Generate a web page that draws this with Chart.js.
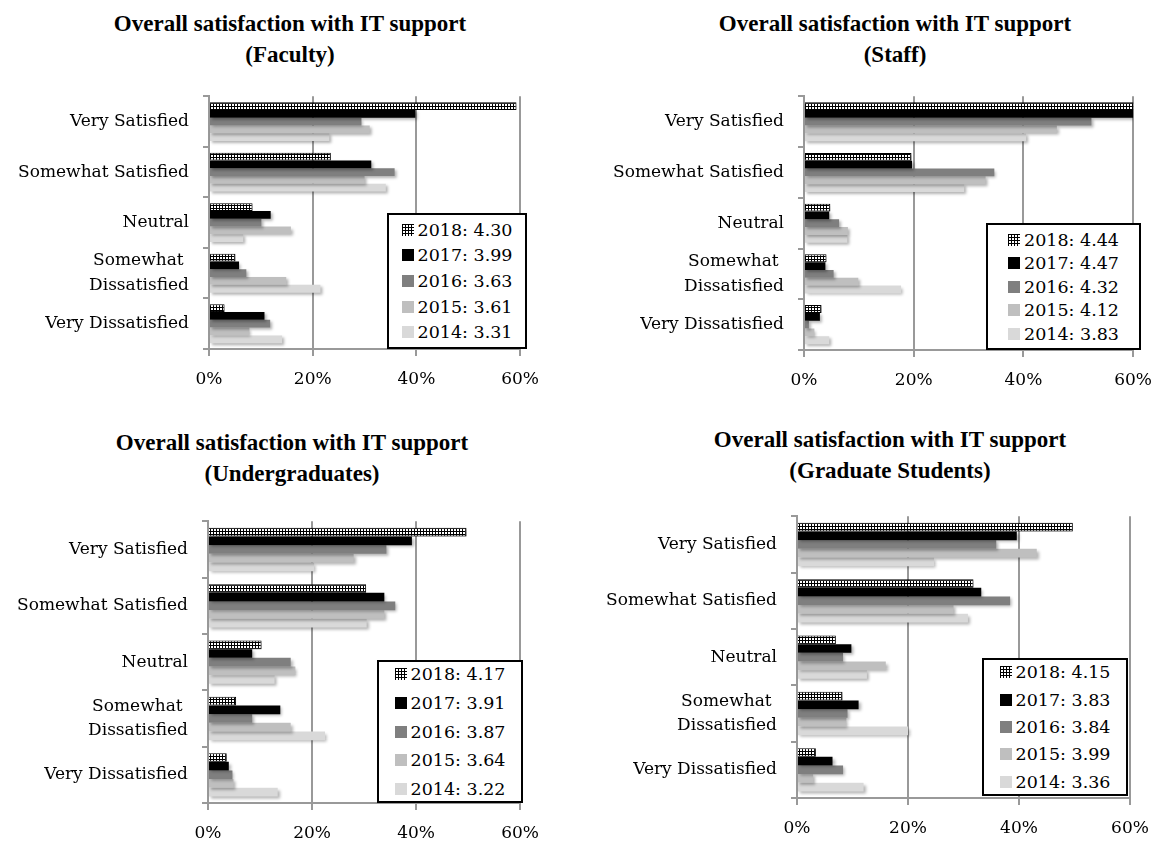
<!doctype html>
<html lang="en">
<head>
<meta charset="utf-8" />
<title>Overall satisfaction with IT support</title>
<script src="https://cdn.jsdelivr.net/npm/chart.js@4.4.3/dist/chart.umd.min.js"></script>
<style>
  html, body { margin: 0; padding: 0; background: #fff; }
  body { width: 1163px; height: 841px; position: relative; overflow: hidden; font-family: "DejaVu Serif", serif; }
  canvas { position: absolute; }
  .title {
    position: absolute; width: 560px; text-align: center; white-space: nowrap;
    font-family: "Liberation Serif", serif; font-weight: bold; font-size: 23px; line-height: 31px; color: #000;
  }
  .legend {
    position: absolute; box-sizing: border-box; border: 2px solid #000; background: #fff;
    display: flex; justify-content: center; align-items: center;
  }
  .row { display: flex; align-items: center; font-size: 17.5px; color: #000; white-space: nowrap; }
  .sw { width: 12px; height: 12px; margin-right: 4px; image-rendering: pixelated; }
</style>
</head>
<body>
<script>
// categories, top to bottom
const categories = ["Very Satisfied", "Somewhat Satisfied", "Neutral", ["Somewhat ", "Dissatisfied"], "Very Dissatisfied"];
const years = ["2018", "2017", "2016", "2015", "2014"];
const xTicks = ["0%", "20%", "40%", "60%"];

// share of respondents (%), one row per year 2018 -> 2014
const faculty = [
  [59.3, 23.5, 8.4, 5.1, 3.0],
  [39.8, 31.3, 11.9, 5.8, 10.7],
  [29.4, 35.8, 10.1, 7.2, 11.8],
  [31.0, 30.0, 15.8, 14.9, 7.8],
  [23.2, 34.1, 6.6, 21.5, 14.1],
];
const facultyMeans = ["4.30", "3.99", "3.63", "3.61", "3.31"];

const staff = [
  [60.5, 19.6, 4.8, 4.1, 3.2],
  [61.0, 19.7, 4.6, 3.9, 2.9],
  [52.4, 34.7, 6.4, 5.4, 0.9],
  [46.1, 33.1, 8.0, 9.9, 1.9],
  [40.5, 29.2, 7.9, 17.7, 4.6],
];
const staffMeans = ["4.44", "4.47", "4.32", "4.12", "3.83"];

const undergrads = [
  [49.7, 30.4, 10.3, 5.4, 3.6],
  [39.2, 33.9, 8.5, 13.9, 4.0],
  [34.3, 36.0, 15.9, 8.5, 4.7],
  [28.0, 33.9, 16.8, 15.9, 4.9],
  [20.4, 30.5, 12.8, 22.5, 13.4],
];
const undergradMeans = ["4.17", "3.91", "3.87", "3.64", "3.22"];

const grads = [
  [49.7, 31.8, 7.0, 8.2, 3.4],
  [39.6, 33.2, 9.8, 11.1, 6.4],
  [35.9, 38.4, 8.3, 9.1, 8.3],
  [43.2, 28.2, 16.0, 8.9, 2.9],
  [24.7, 30.8, 12.6, 20.0, 12.0],
];
const gradMeans = ["4.15", "3.83", "3.84", "3.99", "3.36"];

// little black tile with white dots, used for the 2018 bars
function dotTile() {
  const c = document.createElement("canvas");
  c.width = 3;
  c.height = 3;
  const g = c.getContext("2d");
  g.fillStyle = "#000";
  g.fillRect(0, 0, 3, 3);
  g.fillStyle = "#fff";
  g.fillRect(1, 1, 2, 2);
  return c;
}
const tile = dotTile();
const tileUrl = tile.toDataURL();

const fills = [null, "#000000", "#7f7f7f", "#bfbfbf", "#d9d9d9"];
const gridGray = "#999999";

const barShadow = {
  id: "barShadow",
  beforeDatasetsDraw(chart) {
    const c = chart.ctx;
    c.save();
    c.shadowColor = "rgba(0,0,0,0.3)";
    c.shadowBlur = 3;
    c.shadowOffsetX = 2;
    c.shadowOffsetY = 2;
  },
  afterDatasetsDraw(chart) {
    chart.ctx.restore();
  },
};

const panels = [
  { name: "Faculty", data: faculty, means: facultyMeans,
    canvas: { left: 0, top: 70, width: 550, height: 320 },
    plot: { left: 209, right: 526, top: 84, bottom: 349 },
    title: { center: 290, top: 8 },
    legend: { left: 387, top: 213, width: 140, height: 136, row: 25.7 } },
  { name: "Staff", data: staff, means: staffMeans,
    canvas: { left: 580, top: 70, width: 583, height: 320 },
    plot: { left: 804, right: 1138, top: 85, bottom: 350 },
    title: { center: 895, top: 8 },
    legend: { left: 986, top: 223, width: 155, height: 127, row: 23.5 } },
  { name: "Undergraduates", data: undergrads, means: undergradMeans,
    canvas: { left: 0, top: 495, width: 550, height: 346 },
    plot: { left: 208, right: 525, top: 508, bottom: 803 },
    title: { center: 292, top: 427 },
    legend: { left: 377, top: 660, width: 146, height: 143, row: 28.7 } },
  { name: "Graduate Students", data: grads, means: gradMeans,
    canvas: { left: 580, top: 490, width: 583, height: 351 },
    plot: { left: 797, right: 1130, top: 504, bottom: 798 },
    title: { center: 890, top: 424 },
    legend: { left: 982, top: 658, width: 146, height: 138, row: 27.4 } },
];

const tickFont = { family: "'DejaVu Serif', serif", size: 17, lineHeight: 1.45 };

for (const p of panels) {
  const t = document.createElement("div");
  t.className = "title";
  t.style.left = (p.title.center - 280) + "px";
  t.style.top = p.title.top + "px";
  t.innerHTML = "Overall satisfaction with IT support<br>(" + p.name + ")";
  document.body.appendChild(t);

  const cv = document.createElement("canvas");
  cv.width = p.canvas.width;
  cv.height = p.canvas.height;
  cv.style.left = p.canvas.left + "px";
  cv.style.top = p.canvas.top + "px";
  document.body.appendChild(cv);

  const axisW = p.plot.left - p.canvas.left;
  const axisH = p.canvas.top + p.canvas.height - p.plot.bottom;
  const padTop = p.plot.top - p.canvas.top;
  const padRight = p.canvas.left + p.canvas.width - p.plot.right;

  const ctx = cv.getContext("2d");
  const pattern = ctx.createPattern(tile, "repeat");

  new Chart(cv, {
    type: "bar",
    data: {
      labels: categories,
      datasets: years.map((y, i) => ({
        label: y + ": " + p.means[i],
        data: p.data[i],
        backgroundColor: i === 0 ? pattern : fills[i],
        borderColor: "#000",
        borderWidth: i === 0 ? 1 : 0,
        categoryPercentage: 0.77,
        barPercentage: 1.0,
      })),
    },
    options: {
      indexAxis: "y",
      responsive: false,
      animation: false,
      layout: { autoPadding: false, padding: { top: padTop, right: padRight, left: 0, bottom: 0 } },
      plugins: { legend: { display: false }, tooltip: { enabled: false }, title: { display: false } },
      scales: {
        x: {
          min: 0,
          max: 60,
          afterFit(s) { s.height = axisH; },
          ticks: { stepSize: 20, color: "#000", font: tickFont, padding: 11, callback: (v, i) => xTicks[i] },
          grid: { color: gridGray, lineWidth: 2, tickLength: 7 },
          border: { color: gridGray, width: 2 },
        },
        y: {
          afterFit(s) { s.width = axisW; },
          ticks: { color: "#000", font: tickFont, padding: 14, autoSkip: false },
          grid: { drawOnChartArea: false, color: gridGray, lineWidth: 2, tickLength: 6 },
          border: { color: gridGray, width: 2 },
        },
      },
    },
    plugins: [barShadow],
  });

  const lg = document.createElement("div");
  lg.className = "legend";
  lg.style.left = p.legend.left + "px";
  lg.style.top = p.legend.top + "px";
  lg.style.width = p.legend.width + "px";
  lg.style.height = p.legend.height + "px";
  const inner = document.createElement("div");
  years.forEach((y, i) => {
    const row = document.createElement("div");
    row.className = "row";
    row.style.height = p.legend.row + "px";
    const sw = document.createElement("span");
    sw.className = "sw";
    if (i === 0) {
      sw.style.backgroundColor = "#000";
      sw.style.backgroundImage = "url(" + tileUrl + ")";
    } else {
      sw.style.backgroundColor = fills[i];
    }
    const tx = document.createElement("span");
    tx.textContent = y + ": " + p.means[i];
    row.appendChild(sw);
    row.appendChild(tx);
    inner.appendChild(row);
  });
  lg.appendChild(inner);
  document.body.appendChild(lg);
}
</script>
</body>
</html>
